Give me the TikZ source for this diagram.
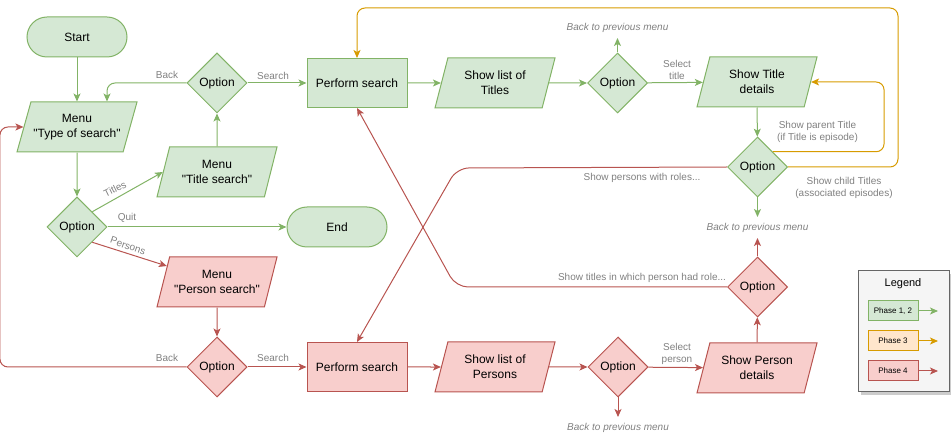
\documentclass[tikz,border=0pt]{standalone}
\usepackage{fontspec}
\setmainfont{Liberation Sans}[Ligatures=TeXOff]
\usepackage{tikz}
\usetikzlibrary{shapes.geometric,arrows.meta,shadows}

\definecolor{grnfill}{HTML}{D5E8D4}
\definecolor{grnline}{HTML}{82B366}
\definecolor{redfill}{HTML}{F8CECC}
\definecolor{redline}{HTML}{B85450}
\definecolor{orgfill}{HTML}{FFE6CC}
\definecolor{orgline}{HTML}{D79B00}
\definecolor{lblgray}{HTML}{808080}
\definecolor{legfill}{HTML}{F5F5F5}
\definecolor{legline}{HTML}{666666}

\begin{document}
\begin{tikzpicture}[x=10pt,y=10pt,line width=1pt,font=\fontsize{12}{15}\selectfont]
\tikzstyle{every node}+=[inner sep=0pt, align=center]
\tikzstyle{grn}=[fill=grnfill, draw=grnline]
\tikzstyle{rd}=[fill=redfill, draw=redline]
\tikzstyle{org}=[fill=orgfill, draw=orgline]
\tikzstyle{term}=[rectangle, rounded corners=20pt, minimum width=100pt, minimum height=40pt]
\tikzstyle{proc}=[rectangle, minimum width=100pt, minimum height=49pt]
\tikzstyle{io}=[trapezium, trapezium left angle=61.6, trapezium right angle=118.4, trapezium stretches body, minimum width=120pt, minimum height=50pt, inner xsep=-12pt]
\tikzstyle{choice}=[diamond, minimum width=60pt, minimum height=60pt]
\tikzstyle{lbl}=[text=lblgray, font=\fontsize{10}{12}\selectfont]
\tikzstyle{backlbl}=[text=lblgray, font=\fontsize{10}{12}\selectfont\itshape]
\tikzstyle{legbox}=[minimum width=50pt, minimum height=20pt, font=\fontsize{8}{10}\selectfont]
\tikzstyle{garr}=[draw=grnline, -{Stealth[length=8pt,width=7pt,inset=2pt]}]
\tikzstyle{rarr}=[draw=redline, -{Stealth[length=8pt,width=7pt,inset=2pt]}]
\tikzstyle{oarr}=[draw=orgline, -{Stealth[length=8pt,width=7pt,inset=2pt]}]
\useasboundingbox (0,0) rectangle (95.1,-43.8);

% left column
\node[term, grn] (start) at (7.7,-3.7) {Start};
\node[io, grn] (menuType) at (7.7,-12.7) {Menu\\"Type of search"};
\node[choice, grn] (optMain) at (7.7,-22.7) {Option};
\node[term, grn] (end) at (33.7,-22.7) {End};
\node[io, grn] (menuTitle) at (21.7,-17.2) {Menu\\"Title search"};
\node[choice, grn] (optTitle) at (21.7,-8.3) {Option};
\node[io, rd] (menuPerson) at (21.7,-28.2) {Menu\\"Person search"};
\node[choice, rd] (optPerson) at (21.7,-36.7) {Option};

% title row
\node[proc, grn] (searchT) at (35.7,-8.3) {Perform search};
\node[io, grn] (listT) at (49.5,-8.3) {Show list of\\Titles};
\node[choice, grn] (optTM) at (61.75,-8.3) {Option};
\node[io, grn] (showT) at (75.7,-8.2) {Show Title\\details};
\node[choice, grn] (optTR) at (75.75,-16.7) {Option};

% person row
\node[proc, rd] (searchP) at (35.7,-36.7) {Perform search};
\node[io, rd] (listP) at (49.5,-36.7) {Show list of\\Persons};
\node[choice, rd] (optPM) at (61.8,-36.7) {Option};
\node[io, rd] (showP) at (75.7,-36.8) {Show Person\\details};
\node[choice, rd] (optPR) at (75.75,-28.7) {Option};

% free ends and bends
\coordinate (upT) at (61.75,-3.8);
\coordinate (downT) at (75.75,-21.7);
\coordinate (upP) at (75.75,-23.8);
\coordinate (downP) at (61.8,-41.7);
\coordinate (kneeA) at (45.7,-16.8);
\coordinate (kneeB) at (45.6,-28.7);

\draw[garr] (start) -- (menuType);
\draw[garr] (menuType) -- (optMain);
\draw[garr] (optMain.north east) -- (menuTitle.west);
\draw[garr] (optMain) -- (end);
\draw[rarr] (optMain.south east) -- (menuPerson);
\draw[garr] (menuTitle) -- (optTitle);
\draw[garr, rounded corners=8pt] (optTitle.west) -| ([xshift=30pt]menuType.north);
\draw[garr] (optTitle) -- (searchT);
\draw[rarr] (menuPerson) -- (optPerson);
\draw[rarr] (optPerson) -- (searchP);
\draw[rarr, rounded corners=8pt] (optPerson.west) -| ([xshift=-23.5pt]menuType.west) -- (menuType.west);

\draw[garr] (searchT) -- (listT);
\draw[garr] (listT) -- (optTM);
\draw[garr] (optTM) -- (upT);
\draw[garr] (optTM) -- (showT);
\draw[garr] (showT) -- (optTR);
\draw[garr] (optTR) -- (downT);
\draw[oarr, rounded corners=8pt] (optTR.north east) -| ([xshift=73pt]showT.east) -- (showT.east);
\draw[oarr, rounded corners=8pt] (optTR.east) -- ++(11,0) |- ([yshift=50pt]searchT.north) -- (searchT.north);
\draw[rarr, rounded corners=12pt] (optTR.west) -- (kneeA) -- (searchP.north);

\draw[rarr] (searchP) -- (listP);
\draw[rarr] (listP) -- (optPM);
\draw[rarr] (optPM) -- (downP);
\draw[rarr] (optPM) -- (showP);
\draw[rarr] (showP) -- (optPR);
\draw[rarr] (optPR) -- (upP);
\draw[rarr, rounded corners=12pt] (optPR.west) -- (kneeB) -- (searchT.south);

% labels
\node[lbl, rotate=26] (lblTitles) at (11.5,-18.9) {Titles};
\node[lbl] (lblQuit) at (12.7,-21.8) {Quit};
\node[lbl, rotate=-20] (lblPersons) at (12.8,-24.6) {Persons};
\node[lbl] (lblBackT) at (16.7,-7.5) {Back};
\node[lbl] (lblSearchT) at (27.3,-7.6) {Search};
\node[lbl] (lblBackP) at (16.7,-35.8) {Back};
\node[lbl] (lblSearchP) at (27.3,-35.8) {Search};
\node[lbl] (lblSelT) at (67.7,-7.0) {Select\\title};
\node[lbl] (lblSelP) at (67.7,-35.4) {Select\\person};
\node[lbl] (lblParent) at (81.75,-13.2) {Show parent Title\\(if Title is episode)};
\node[lbl] (lblChild) at (84.4,-18.8) {Show child Titles\\(associated episodes)};
\node[lbl] (lblRoles) at (64.2,-17.8) {Show persons with roles...};
\node[lbl] (lblHadRole) at (64.2,-27.8) {Show titles in which person had role...};
\node[backlbl] (backT) at (61.75,-2.8) {Back to previous menu};
\node[backlbl] (backR) at (75.75,-22.8) {Back to previous menu};
\node[backlbl] (backP) at (61.8,-42.8) {Back to previous menu};

% legend
\node[draw=legline, fill=legfill, minimum width=91pt, minimum height=121pt,
  drop shadow={shadow xshift=3pt, shadow yshift=-3pt, fill=black!40}] (legend) at (90.35,-33.15) {};
\node[font=\fontsize{11}{13}\selectfont] (legTitle) at (90.3,-28.4) {Legend};
\node[legbox, grn] (legA) at (89.3,-31.1) {Phase 1, 2};
\node[legbox, org] (legB) at (89.3,-34.1) {Phase 3};
\node[legbox, rd] (legC) at (89.3,-37.1) {Phase 4};
\coordinate (legAend) at (93.8,-31.1);
\coordinate (legBend) at (93.8,-34.1);
\coordinate (legCend) at (93.8,-37.1);
\draw[garr] (legA) -- (legAend);
\draw[oarr] (legB) -- (legBend);
\draw[rarr] (legC) -- (legCend);
\end{tikzpicture}
\end{document}
